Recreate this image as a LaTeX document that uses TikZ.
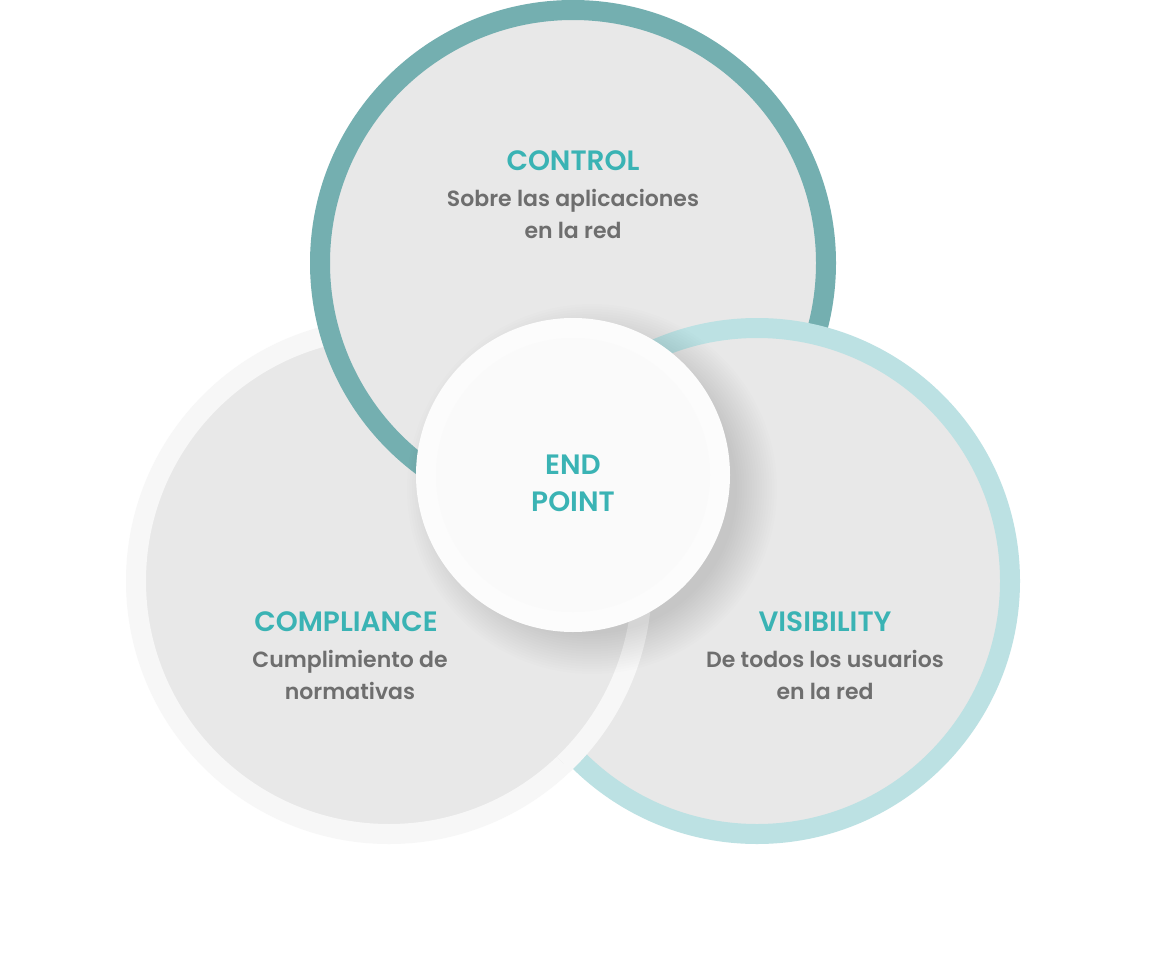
\documentclass[tikz,border=0pt]{standalone}
\usepackage{fontspec}
\setmainfont{Poppins}[UprightFont=* SemiBold, BoldFont=* Bold]
\definecolor{ringTeal}{HTML}{74AFB0}
\definecolor{ringLight}{HTML}{BCE1E3}
\definecolor{ringPale}{HTML}{F7F7F7}
\definecolor{discGray}{HTML}{E8E8E8}
\definecolor{titleTeal}{HTML}{3AB3B4}
\definecolor{subGray}{HTML}{6E6E6E}
\tikzset{
  disc/.style={fill=discGray, line width=20pt},
  titletext/.style={text=titleTeal, font=\fontsize{28}{32}\selectfont, anchor=base, inner sep=0pt},
  subtext/.style={text=subGray, font=\fontsize{22}{32}\selectfont, anchor=base, inner sep=0pt},
}
\begin{document}
\begin{tikzpicture}[x=1pt,y=-1pt]
\useasboundingbox (0,0) rectangle (1162,974);
\fill[white] (0,0) rectangle (1162,974);
% left circle (compliance)
\draw[disc, draw=ringPale] (389,581) circle[radius=253];
% top circle (control)
\draw[disc, draw=ringTeal] (573,263) circle[radius=253];
% right circle (visibility)
\draw[disc, draw=ringLight] (757,581) circle[radius=253];
% left over right inside right disc
\begin{scope}
  \clip (757,581) circle[radius=266];
  \draw[disc, draw=ringPale] (389,581) circle[radius=253];
\end{scope}
% soft shadow of centre disc
\foreach \r in {145,147.5,...,185}
  \fill[black, opacity=0.007] (592,489) circle[radius=\r];
% centre
\node (ep) [circle, minimum size=314pt, inner sep=0pt, fill=white!99!black] at (573,475) {};
\node (epin) [circle, minimum size=274pt, inner sep=0pt, fill=black!2] at (573,475) {};
\node (end) [titletext] at (573,474) {END};
\node (point) [titletext] at (573,511) {POINT};
% texts
\node (ctl) [titletext] at (573,170) {CONTROL};
\node (ctls1) [subtext] at (573,206) {Sobre las aplicaciones};
\node (ctls2) [subtext] at (573,238) {en la red};
\node (cmp) [titletext] at (346,631) {COMPLIANCE};
\node (cmps1) [subtext] at (350,667) {Cumplimiento de};
\node (cmps2) [subtext] at (350,699) {normativas};
\node (vis) [titletext] at (825,631) {VISIBILITY};
\node (viss1) [subtext] at (825,667) {De todos los usuarios};
\node (viss2) [subtext] at (825,699) {en la red};
\end{tikzpicture}
\end{document}
